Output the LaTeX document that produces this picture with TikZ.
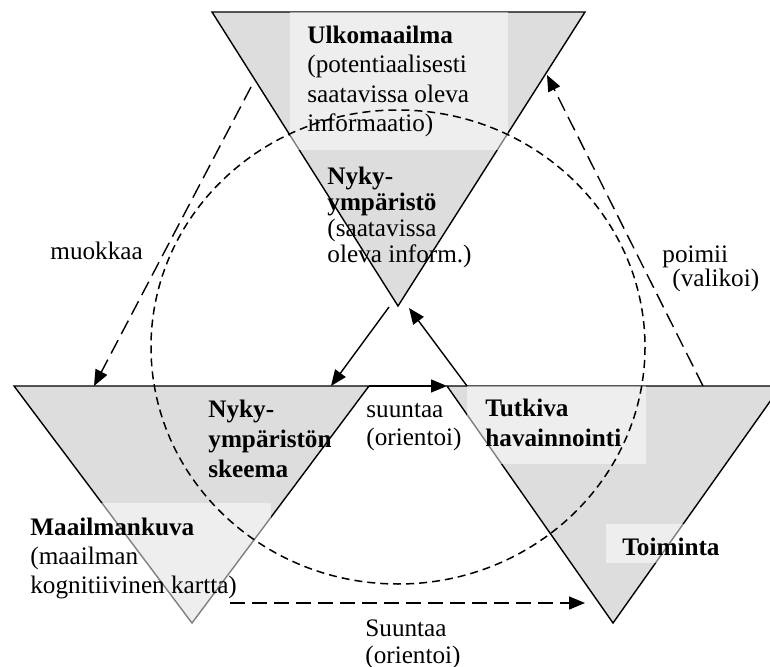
\documentclass[tikz,border=0pt]{standalone}
\usepackage{fontspec}
\setmainfont{Liberation Serif}
\usetikzlibrary{arrows.meta}
\definecolor{harmaa}{RGB}{221,221,221}

\tikzset{
  kolmio/.style={fill=harmaa, draw=black, line width=0.7pt},
  vaalea/.style={fill=white, fill opacity=0.5},
  teksti/.style={anchor=base west, inner sep=0pt, align=left, font=\fontsize{12.6}{14.8}\selectfont},
  ympyra/.style={dash pattern=on 4pt off 2.5pt, line width=0.75pt},
  katko/.style={dash pattern=on 7.5pt off 3.5pt, line width=0.7pt, -{Triangle[length=8pt,width=6.5pt]}},
  nuoli/.style={line width=0.7pt, -{Triangle[length=8pt,width=6.5pt]}},
}

\begin{document}
\begin{tikzpicture}[x=0.5pt,y=-0.5pt]

    \clip (0,0) rectangle (770,667);

    % kolmiot
    \coordinate (ulkoA) at (212,12);
    \coordinate (ulkoB) at (585,12);
    \coordinate (ulkoC) at (398,306);
    \coordinate (vasenA) at (14,386);
    \coordinate (vasenB) at (369,386);
    \coordinate (vasenC) at (192,623);
    \coordinate (oikeaA) at (447,386);
    \coordinate (oikeaB) at (781,386);
    \coordinate (oikeaC) at (613,623);

    \draw[kolmio] (ulkoA) -- (ulkoB) -- (ulkoC) -- cycle;
    \draw[kolmio] (vasenA) -- (vasenB) -- (vasenC) -- cycle;
    \draw[kolmio] (oikeaA) -- (oikeaB) -- (oikeaC) -- cycle;

    % vaaleat laatikot
    \fill[vaalea] (290,12) rectangle (508,150);
    \fill[vaalea] (14,503) rectangle (271,625);
    \fill[vaalea] (467,386) rectangle (646,464);
    \fill[vaalea] (606,524) rectangle (735,563);

    % tekstit (base = viimeisen rivin perusviiva)
    \node[teksti] (ulko) at (307,132) {\textbf{Ulkomaailma}\\(potentiaalisesti\\saatavissa oleva\\informaatio)};
    \node[teksti, font=\fontsize{12.6}{13}\selectfont] (nyky) at (327,263) {\textbf{Nyky-}\\\textbf{ympäristö}\\(saatavissa\\oleva inform.)};
    \node[teksti] (skeema) at (208,477) {\textbf{Nyky-}\\\textbf{ympäristön}\\\textbf{skeema}};
    \node[teksti, font=\fontsize{12.6}{14.5}\selectfont] (kuva) at (30,593) {\textbf{Maailmankuva}\\(maailman\\kognitiivinen kartta)};
    \node[teksti, font=\fontsize{12.6}{15}\selectfont] (tutkiva) at (485,447) {\textbf{Tutkiva}\\\textbf{havainnointi}};
    \node[teksti] (toiminta) at (622,555) {\textbf{Toiminta}};

    \node[teksti] (muokkaa) at (50,260) {muokkaa};
    \node[teksti, font=\fontsize{12.6}{12}\selectfont] (poimii) at (662,287) {poimii\\\hspace{5pt}(valikoi)};
    \node[teksti, font=\fontsize{12.6}{13.5}\selectfont] (suuntaa) at (366,445) {suuntaa\\(orientoi)};
    \node[teksti, font=\fontsize{12.6}{13.5}\selectfont] (suuntaa2) at (365,663) {Suuntaa\\(orientoi)};

    % ympyra
    \draw[ympyra] (398,347) ellipse [x radius=247, y radius=237];

    % nuolet
    \coordinate (muokkaaA) at (251,87);
    \coordinate (muokkaaB) at (94,386);
    \coordinate (poimiiA) at (703,386);
    \coordinate (poimiiB) at (547,75);
    \coordinate (alasA) at (389,307);
    \coordinate (alasB) at (331,386);
    \coordinate (ylosA) at (467,386);
    \coordinate (ylosB) at (409,308);
    \coordinate (kuvaA) at (230,603);
    \coordinate (kuvaB) at (585,603);

    \draw[katko] (muokkaaA) -- (muokkaaB);
    \draw[katko] (poimiiA) -- (poimiiB);
    \draw[katko] (kuvaA) -- (kuvaB);
    \draw[nuoli] (alasA) -- (alasB);
    \draw[nuoli] (ylosA) -- (ylosB);
    \draw[nuoli] (vasenB) -- (oikeaA);

\end{tikzpicture}
\end{document}
